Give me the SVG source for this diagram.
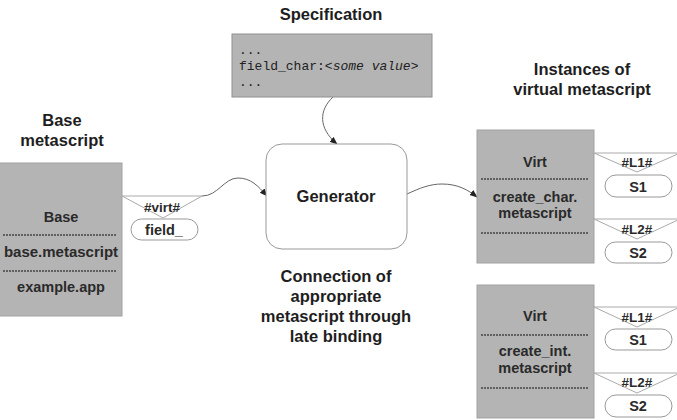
<svg xmlns="http://www.w3.org/2000/svg" width="677" height="420" viewBox="0 0 677 420">
<defs>
<style>
.title{font-family:"Liberation Sans",Arial,sans-serif;font-weight:bold;font-size:16.5px;fill:#1e1e1e;text-anchor:middle}
.bt{font-family:"Liberation Sans",Arial,sans-serif;font-weight:bold;font-size:14.5px;fill:#2a2a2a;text-anchor:middle}
.lab{font-family:"Liberation Sans",Arial,sans-serif;font-weight:bold;font-size:13.5px;fill:#2a2a2a;text-anchor:middle}
.mono{font-family:"Liberation Mono","Courier New",monospace;font-size:13px;fill:#222}
.box{fill:#b4b4b4;stroke:#a2a2a2;stroke-width:1}
.dash{stroke:#444;stroke-width:1.5;stroke-dasharray:2,1}
.tri{fill:#fff;stroke:#aaa;stroke-width:1}
.oval{fill:#fff;stroke:#999;stroke-width:1}
.con{fill:none;stroke:#666;stroke-width:1}
</style>
<marker id="arr" viewBox="0 0 10 10" refX="9" refY="5" markerWidth="8" markerHeight="8" orient="auto" markerUnits="userSpaceOnUse">
<path d="M0,1 L10,5 L0,9 Z" fill="#222"/>
</marker>
</defs>
<rect width="677" height="420" fill="#fff"/>

<g id="connectors">
<path class="con" d="M202,196 C218,196 224,178 238,178 C251,178 258,186 267,196" marker-end="url(#arr)"/>
<path class="con" d="M333,97 C319,110 318,128 337,144" marker-end="url(#arr)"/>
<path class="con" d="M407,194 C420,188 430,184 442,184 C458,184 468,190 477,197" marker-end="url(#arr)"/>
</g>

<g id="base">
<text class="title" x="62" y="126">Base</text>
<text class="title" x="62" y="146">metascript</text>
<rect class="box" x="-1" y="163" width="123" height="153"/>
<text class="bt" x="61" y="222">Base</text>
<line class="dash" x1="3" y1="235" x2="117" y2="235"/>
<text class="bt" x="61" y="257" style="font-size:15px">base.metascript</text>
<line class="dash" x1="3" y1="271" x2="117" y2="271"/>
<text class="bt" x="61" y="292">example.app</text>
</g>

<g id="base-slot">
<path class="tri" d="M122,196 L202,196 L163,218 Z"/>
<text class="lab" x="162" y="212">#virt#</text>
<rect class="oval" x="131" y="219" width="67" height="21" rx="10.5"/>
<text class="bt" x="164" y="235">field_</text>
</g>

<g id="specification">
<text class="title" x="331" y="20">Specification</text>
<rect class="box" x="232" y="34" width="200" height="63" style="stroke:#909090"/>
<text class="mono" x="239" y="54">...</text>
<text class="mono" x="239" y="70">field_char:&lt;<tspan font-style="italic">some value</tspan>&gt;</text>
<text class="mono" x="239" y="86">...</text>
</g>

<g id="generator">
<rect x="266" y="144" width="141" height="105" rx="16" fill="#fff" stroke="#999" stroke-width="1"/>
<text class="title" x="336" y="202">Generator</text>
</g>

<g id="caption">
<text class="title" x="336" y="282">Connection of</text>
<text class="title" x="336" y="302">appropriate</text>
<text class="title" x="336" y="322">metascript through</text>
<text class="title" x="336" y="342">late binding</text>
</g>

<g id="instances-title">
<text class="title" x="582" y="75">Instances of</text>
<text class="title" x="582" y="95">virtual metascript</text>
</g>

<g id="virt1">
<rect class="box" x="477" y="130" width="117" height="133"/>
<text class="bt" x="535" y="167">Virt</text>
<line class="dash" x1="481" y1="179" x2="589" y2="179"/>
<text class="bt" x="535" y="202">create_char.</text>
<text class="bt" x="535" y="218">metascript</text>
<line class="dash" x1="481" y1="233" x2="589" y2="233"/>
</g>
<g id="virt1-slots">
<path class="tri" d="M594,153 L680,153 L637,172 Z"/>
<text class="lab" x="637" y="167">#L1#</text>
<rect class="oval" x="605" y="175" width="67" height="22" rx="11"/>
<text class="bt" x="638" y="192">S1</text>
<path class="tri" d="M594,219 L680,219 L637,239 Z"/>
<text class="lab" x="637" y="234">#L2#</text>
<rect class="oval" x="605" y="242" width="67" height="21" rx="10.5"/>
<text class="bt" x="638" y="258">S2</text>
</g>

<g id="virt2">
<rect class="box" x="477" y="285" width="117" height="133"/>
<text class="bt" x="535" y="321">Virt</text>
<line class="dash" x1="481" y1="335" x2="589" y2="335"/>
<text class="bt" x="535" y="356">create_int.</text>
<text class="bt" x="535" y="373">metascript</text>
<line class="dash" x1="481" y1="388" x2="589" y2="388"/>
</g>
<g id="virt2-slots">
<path class="tri" d="M594,307 L680,307 L637,327 Z"/>
<text class="lab" x="637" y="322">#L1#</text>
<rect class="oval" x="605" y="329" width="67" height="21" rx="10.5"/>
<text class="bt" x="638" y="345">S1</text>
<path class="tri" d="M594,373 L680,373 L637,393 Z"/>
<text class="lab" x="637" y="387">#L2#</text>
<rect class="oval" x="605" y="395" width="67" height="22" rx="11"/>
<text class="bt" x="638" y="411">S2</text>
</g>
</svg>
